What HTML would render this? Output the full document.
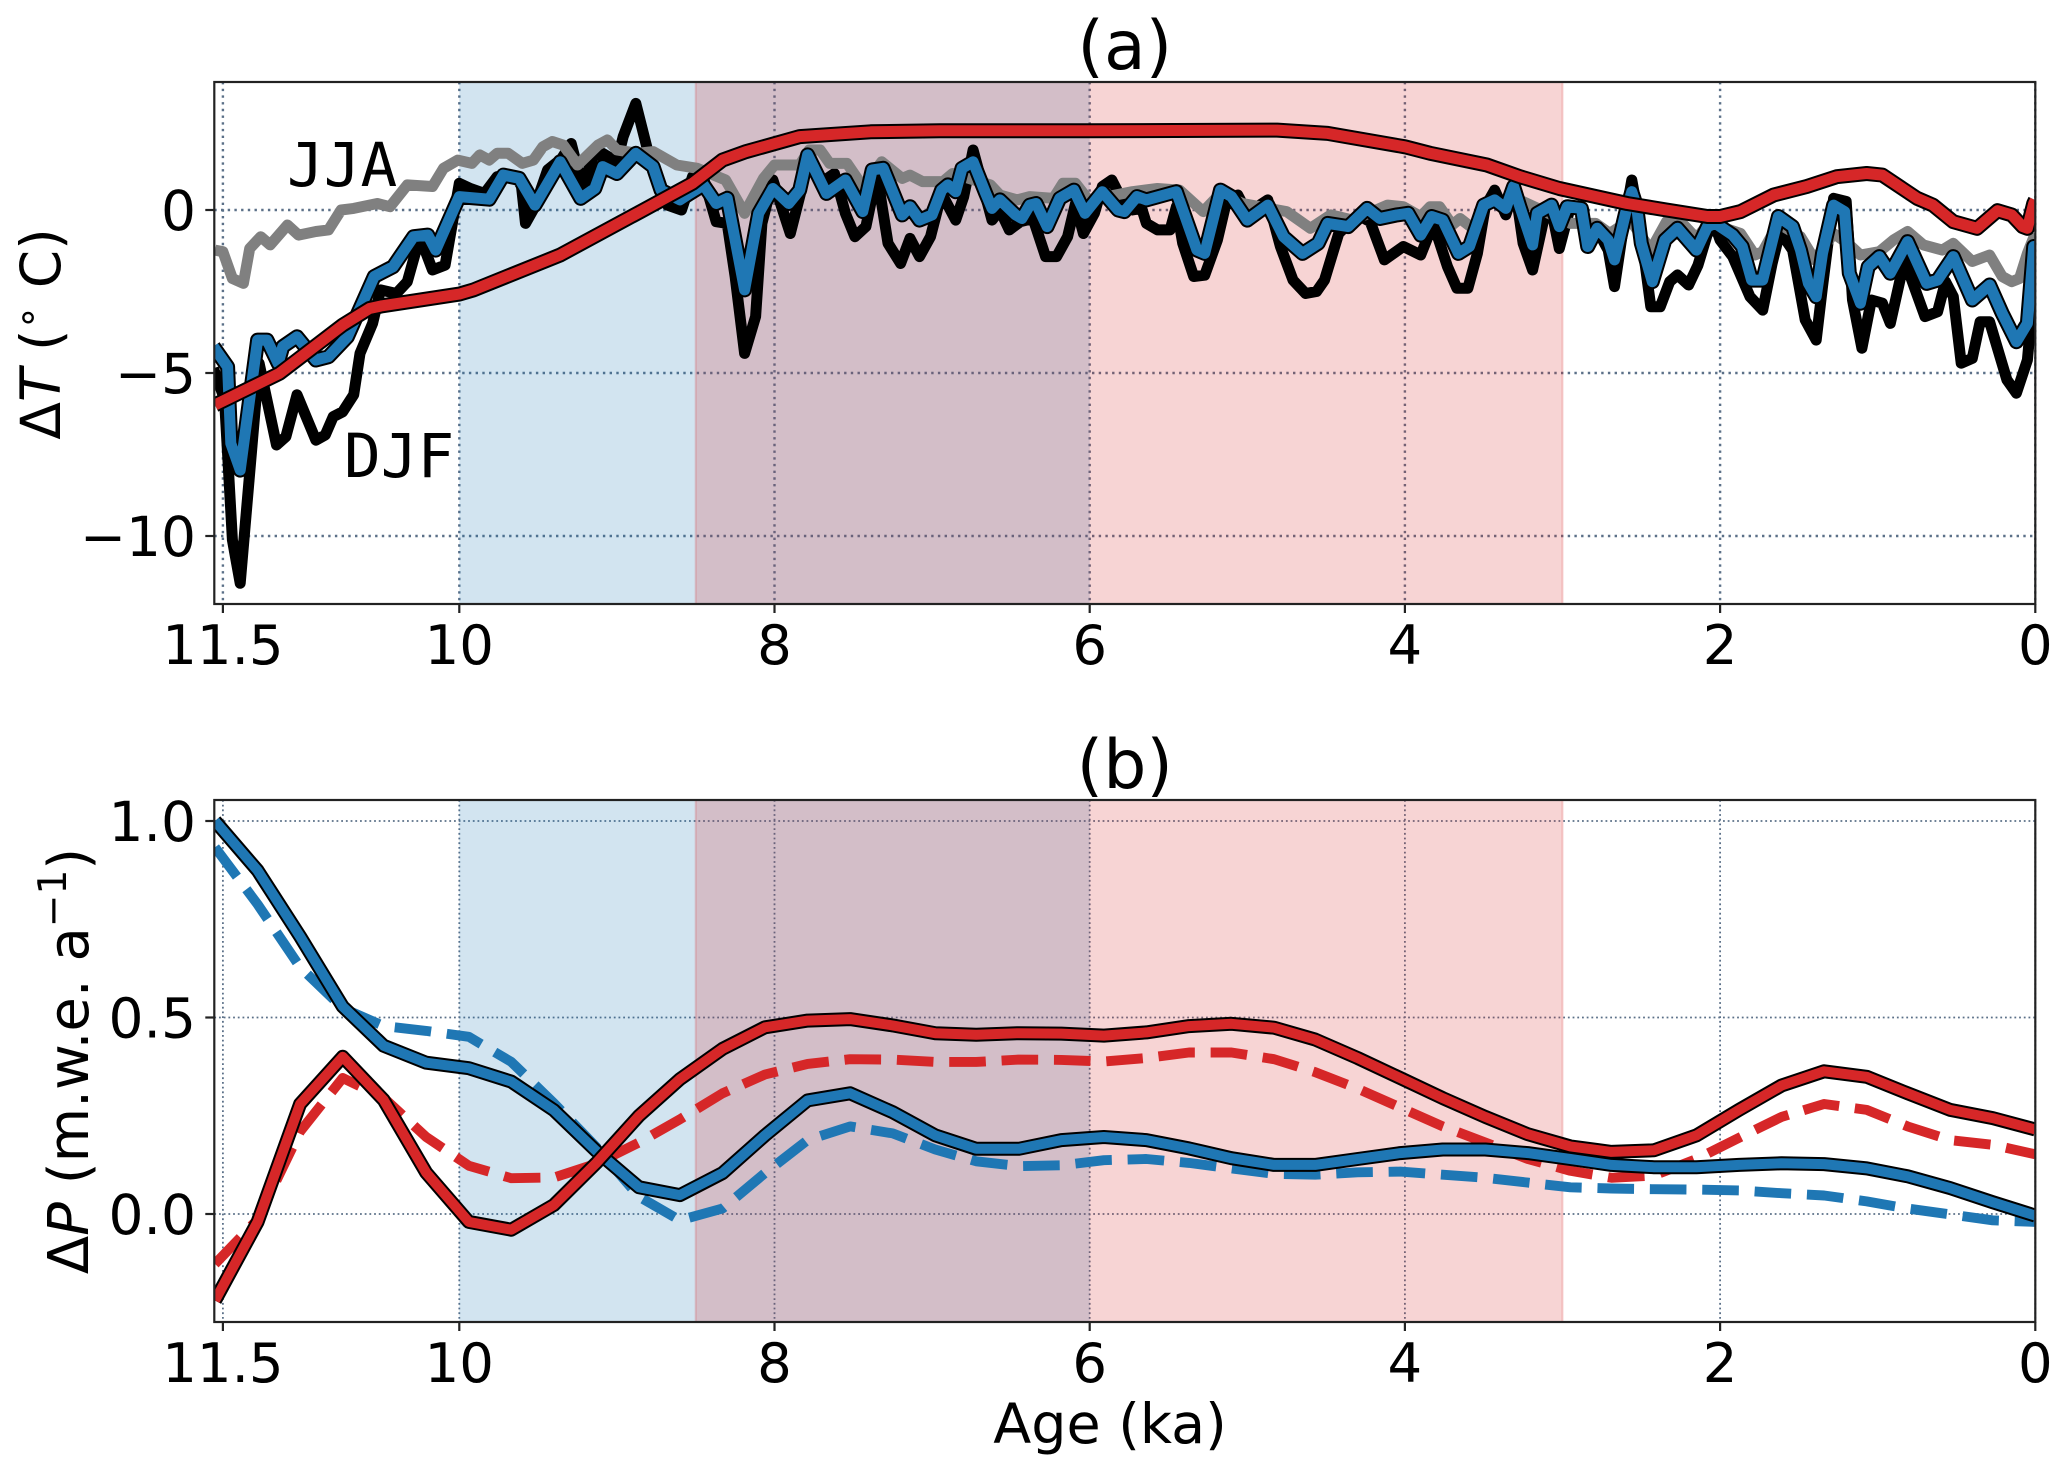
<!DOCTYPE html>
<html lang="en">
<head>
<meta charset="utf-8">
<title>Holocene temperature and precipitation anomalies</title>
<style>
html,body{margin:0;padding:0;background:#fff;width:2067px;height:1474px;overflow:hidden}
svg{display:block}
text{font-family:"DejaVu Sans","Liberation Sans",sans-serif;fill:#000}
.mono{font-family:"DejaVu Sans Mono","Liberation Mono",monospace}
</style>
</head>
<body>
<svg id="figure" xmlns="http://www.w3.org/2000/svg" width="2067" height="1474" viewBox="0 0 2067 1474">
  <defs>
    <clipPath id="clipA"><rect x="214.3" y="82" width="1821" height="522"/></clipPath>
    <clipPath id="clipB"><rect x="214.3" y="800" width="1821" height="522"/></clipPath>
  </defs>
  <rect x="0" y="0" width="2067" height="1474" fill="#fff"/>
  <g id="panelA"></g>
  <g id="panelB"></g>

  <text x="1124.8" y="69" font-size="68" text-anchor="middle">(a)</text>
  <text x="1124.8" y="788" font-size="68" text-anchor="middle">(b)</text>
  <text x="1110" y="1443" font-size="55.5" text-anchor="middle">Age (ka)</text>

  <text transform="translate(60,334) rotate(-90)" font-size="55" text-anchor="middle">Δ<tspan font-style="italic">T</tspan> (<tspan font-size="38" dy="-20">∘</tspan><tspan dy="20"> C)</tspan></text>
  <text transform="translate(88,1061) rotate(-90)" font-size="56" text-anchor="middle">Δ<tspan font-style="italic">P</tspan> (m.w.e. a<tspan font-size="39" dy="-22">−1</tspan><tspan dy="22">)</tspan></text>

  <text class="mono" x="287" y="186" font-size="61">JJA</text>
  <text class="mono" x="344" y="477" font-size="61">DJF</text>
</svg>

<script>
// ---- Axis tick values and labels ----
const xTicks = [11.5, 10, 8, 6, 4, 2, 0];
const xTickLabels = ['11.5', '10', '8', '6', '4', '2', '0'];
const tempTicks = [0, -5, -10];
const tempTickLabels = ['0', '\u22125', '\u221210'];
const precipTicks = [1.0, 0.5, 0.0];
const precipTickLabels = ['1.0', '0.5', '0.0'];

// ---- Shaded periods (ka) ----
const blueSpan = [10, 6];
const redSpan = [8.5, 3];

// ---- Panel (a): DJF temperature anomaly ----
const djfAges = [11.56,11.49,11.44,11.39,11.27,11.16,11.10,11.03,10.91,10.85,10.80,10.74,10.67,10.63,10.55,10.50,10.40,10.33,10.25,10.17,10.09,10.00,9.93,9.84,9.76,9.69,9.61,9.58,9.52,9.44,9.35,9.29,9.22,9.15,9.09,9.00,8.96,8.88,8.80,8.73,8.68,8.59,8.52,8.45,8.37,8.30,8.25,8.19,8.12,8.08,8.01,7.90,7.83,7.78,7.71,7.62,7.55,7.49,7.42,7.35,7.28,7.20,7.14,7.08,7.01,6.94,6.85,6.80,6.74,6.62,6.57,6.51,6.44,6.36,6.28,6.21,6.14,6.09,6.04,5.97,5.92,5.86,5.79,5.73,5.67,5.64,5.57,5.49,5.45,5.41,5.34,5.27,5.19,5.14,5.06,5.00,4.87,4.79,4.71,4.63,4.56,4.51,4.42,4.30,4.22,4.13,4.01,3.90,3.82,3.73,3.67,3.60,3.54,3.49,3.43,3.36,3.30,3.25,3.19,3.12,3.07,3.02,2.95,2.87,2.84,2.78,2.71,2.67,2.62,2.56,2.51,2.44,2.38,2.32,2.27,2.20,2.14,2.08,2.03,2.00,1.92,1.81,1.73,1.67,1.62,1.54,1.46,1.39,1.35,1.28,1.20,1.16,1.10,1.04,0.97,0.92,0.83,0.70,0.62,0.57,0.52,0.47,0.40,0.35,0.29,0.18,0.12,0.05,0.01,0];
const djfValues = [-4.86,-5.8,-10.12,-11.45,-4.7,-7.21,-6.95,-5.67,-7.06,-6.9,-6.34,-6.19,-5.67,-4.4,-3.48,-2.45,-2.56,-2.2,-0.82,-1.84,-1.69,0.82,0.66,0.51,1.02,1.07,0.92,-0.41,0.10,1.23,1.58,2.04,0.72,1.64,1.74,1.48,2.25,3.27,1.74,0.61,0.15,0,1.02,0.97,-0.36,-0.41,-2.04,-4.4,-3.27,-0.41,0.92,-0.72,0.61,1.69,0.82,1.12,-0.10,-0.82,-0.51,1.12,-1.02,-1.64,-0.87,-1.43,-0.82,0.51,-0.31,0.4,1.84,-0.31,0,-0.61,-0.36,-0.26,-1.43,-1.43,-0.82,0.2,-0.72,-0.1,0.72,0.92,0.26,0,0.05,-0.41,-0.61,-0.61,0.1,-1.02,-2.04,-2.0,-0.92,0.1,0.46,-0.1,0.31,-1.12,-2.15,-2.56,-2.5,-2.15,-0.72,-0.15,-0.36,-1.53,-1.12,-1.38,-0.41,-1.74,-2.4,-2.4,-1.33,0.1,0.61,-0.15,0.66,-1.02,-1.84,-0.31,0,-1.18,0.1,0,-1.12,-0.61,-1.23,-2.35,-0.72,0.92,-0.41,-2.97,-2.97,-2.2,-1.99,-2.3,-1.69,-0.72,-0.51,-0.92,-1.43,-2.66,-3.07,-1.64,-0.66,-1.23,-3.37,-3.99,-2.35,0.36,0.26,-2.76,-4.24,-2.76,-2.86,-3.48,-1.53,-3.27,-3.12,-2.2,-2.66,-4.7,-4.55,-3.43,-3.43,-5.21,-5.62,-4.6,-2.45,-1.0];

// ---- Panel (a): JJA temperature anomaly ----
const jjaAges = [11.55,11.50,11.44,11.37,11.33,11.26,11.20,11.09,11.02,10.91,10.83,10.75,10.67,10.52,10.44,10.33,10.17,10.10,10.01,9.92,9.87,9.81,9.76,9.69,9.60,9.53,9.47,9.41,9.34,9.25,9.12,9.06,9.00,8.87,8.77,8.62,8.49,8.31,8.19,8.07,8.00,7.84,7.78,7.71,7.65,7.54,7.44,7.32,7.19,7.14,7.06,6.93,6.87,6.63,6.57,6.46,6.38,6.23,6.17,6.09,6.00,5.90,5.73,5.57,5.43,5.28,5.17,5.03,4.75,4.60,4.47,4.33,4.11,4.01,3.90,3.84,3.78,3.70,3.65,3.57,3.48,3.27,2.95,2.79,2.70,2.57,2.44,2.34,2.23,2.15,2.08,2.00,1.87,1.78,1.73,1.63,1.49,1.40,1.28,1.19,1.11,0.99,0.90,0.81,0.71,0.59,0.52,0.40,0.29,0.21,0.15,0.10,0.05,0];
const jjaValues = [-1.23,-1.28,-2.1,-2.25,-1.18,-0.82,-1.07,-0.46,-0.77,-0.66,-0.61,0,0.05,0.2,0.1,0.77,0.72,1.28,1.53,1.43,1.69,1.53,1.74,1.74,1.43,1.53,1.94,2.1,1.99,1.38,1.99,2.15,1.84,1.74,1.79,1.38,1.28,0.92,-0.1,0.97,1.38,1.38,1.84,1.84,1.43,1.43,0.72,1.48,0.97,1.07,0.87,0.87,1.12,0.77,0.46,0.31,0.41,0.36,0.82,0.82,0.26,0.4,0.56,0.66,0.61,-0.05,0.51,0.2,-0.05,-0.56,-0.15,-0.31,0.15,0.1,-0.2,0.1,0.1,-0.46,-0.26,-0.56,0.2,0.3,-0.41,-0.41,-0.72,-0.3,-1.23,-0.36,-0.46,-0.87,-0.46,-0.51,-0.72,-1.38,-1.28,-0.41,-0.82,-1.53,-0.72,-1.02,-1.38,-1.28,-0.92,-0.66,-1.07,-1.23,-1.02,-1.58,-1.38,-2.04,-2.2,-2.1,-1.33,-0.72];

// ---- Panel (a): annual temperature anomaly (blue) ----
const annualAges = [11.56,11.47,11.45,11.39,11.28,11.22,11.15,11.12,11.03,10.91,10.83,10.71,10.54,10.42,10.29,10.20,10.15,10.00,9.81,9.72,9.62,9.52,9.36,9.23,9.14,9.09,9.00,8.88,8.77,8.72,8.60,8.54,8.45,8.37,8.30,8.19,8.10,8.01,7.91,7.84,7.79,7.67,7.55,7.44,7.38,7.31,7.19,7.14,7.08,7.00,6.94,6.90,6.85,6.81,6.74,6.66,6.62,6.57,6.47,6.43,6.38,6.34,6.27,6.19,6.10,6.03,5.92,5.82,5.78,5.70,5.64,5.45,5.32,5.27,5.17,5.10,5.00,4.87,4.77,4.65,4.55,4.49,4.36,4.24,4.16,4.05,3.98,3.90,3.83,3.76,3.66,3.59,3.50,3.43,3.36,3.31,3.27,3.19,3.16,3.07,3.02,2.97,2.88,2.84,2.78,2.71,2.67,2.60,2.56,2.53,2.50,2.43,2.35,2.27,2.15,2.08,2.03,1.92,1.86,1.80,1.73,1.63,1.54,1.49,1.44,1.39,1.35,1.28,1.21,1.18,1.11,1.06,0.99,0.92,0.81,0.69,0.62,0.52,0.40,0.29,0.21,0.12,0.05,0.01,0];
const annualValues = [-4.19,-4.81,-7.16,-7.98,-3.99,-3.99,-4.7,-4.19,-3.89,-4.6,-4.5,-3.89,-2.04,-1.74,-0.82,-0.77,-1.23,0.41,0.33,1.07,0.97,0.15,1.48,0.36,0.66,1.33,1.12,1.74,1.33,0.61,0.31,0.5,0.77,0.2,0.36,-2.45,-0.1,0.66,0.2,0.61,1.69,0.51,0.92,-0.05,1.23,1.28,-0.15,0.1,-0.31,-0.15,0.61,0.77,0.56,1.28,1.48,0.51,0.05,0.31,-0.15,-0.26,0.15,0.2,-0.51,0.36,0.61,-0.1,0.56,0,-0.05,0.41,0.31,0.56,-1.23,-1.33,0.61,0.41,-0.31,0.15,-0.82,-1.33,-1.02,-0.41,-0.51,0.05,-0.26,-0.15,-0.1,-0.77,-0.2,-0.31,-1.33,-1.12,0.15,0.31,0.05,0.72,0.1,-1.07,-0.1,0.15,-0.51,0.1,0.05,-1.12,-0.56,-0.92,-1.53,-0.1,0.56,0.1,-1.02,-2.2,-0.92,-0.56,-1.23,-0.51,-0.41,-0.77,-1.12,-2.15,-2.15,-0.2,-0.51,-1.23,-2.25,-2.66,-1.33,0.15,-0.05,-1.94,-2.86,-1.74,-1.43,-1.94,-0.97,-2.25,-2.15,-1.43,-2.76,-2.3,-3.17,-4.04,-3.48,-1.12,-1.12];

// ---- Panel (a): modelled temperature forcing (red) ----
const forcingAges = [11.55,11.14,10.74,10.57,10.49,10.00,9.91,9.36,8.85,8.52,8.33,8.18,7.84,7.39,6.95,6.00,4.81,4.49,4.00,3.84,3.48,3.27,3.02,2.59,2.34,2.08,2.00,1.87,1.66,1.45,1.26,1.07,0.97,0.75,0.65,0.52,0.37,0.24,0.15,0.08,0.05,0.01,0];
const forcingValues = [-5.98,-5.01,-3.53,-3.02,-2.94,-2.58,-2.45,-1.38,-0.05,0.82,1.53,1.79,2.25,2.4,2.43,2.43,2.45,2.35,1.94,1.74,1.38,1.02,0.66,0.2,0,-0.2,-0.2,-0.05,0.46,0.72,1.02,1.12,1.07,0.36,0.15,-0.36,-0.56,-0.02,-0.15,-0.51,-0.56,0.2,0.3];

// ---- Panel (b): precipitation anomalies ----
const precipAges = [11.55,11.28,11.01,10.74,10.48,10.21,9.94,9.67,9.40,9.13,8.86,8.60,8.33,8.06,7.79,7.52,7.25,6.98,6.72,6.45,6.18,5.91,5.64,5.37,5.10,4.83,4.57,4.30,4.03,3.76,3.49,3.22,2.95,2.69,2.42,2.15,1.88,1.61,1.34,1.07,0.81,0.54,0.27,0];
const redSolidValues = [-0.22,-0.02,0.28,0.40,0.29,0.105,-0.02,-0.04,0.023,0.13,0.25,0.343,0.42,0.475,0.492,0.496,0.48,0.46,0.456,0.46,0.459,0.454,0.462,0.478,0.484,0.474,0.444,0.397,0.346,0.295,0.247,0.203,0.172,0.158,0.162,0.2,0.265,0.327,0.363,0.349,0.307,0.265,0.244,0.215];
const blueSolidValues = [1.0,0.874,0.706,0.528,0.428,0.385,0.371,0.337,0.264,0.16,0.068,0.048,0.104,0.2,0.289,0.307,0.259,0.2,0.166,0.166,0.188,0.196,0.188,0.167,0.142,0.125,0.125,0.14,0.155,0.164,0.164,0.155,0.14,0.125,0.119,0.119,0.125,0.129,0.127,0.116,0.096,0.066,0.03,-0.004];
const blueDashedValues = [0.933,0.788,0.628,0.524,0.478,0.466,0.451,0.387,0.282,0.17,0.044,-0.016,0.014,0.104,0.188,0.223,0.205,0.164,0.134,0.122,0.124,0.137,0.14,0.13,0.116,0.102,0.1,0.106,0.108,0.1,0.092,0.08,0.068,0.065,0.063,0.062,0.06,0.053,0.047,0.032,0.014,-0.001,-0.016,-0.02];
const redDashedValues = [-0.127,-0.014,0.21,0.346,0.296,0.196,0.123,0.091,0.093,0.128,0.182,0.241,0.307,0.355,0.382,0.394,0.393,0.387,0.387,0.393,0.392,0.388,0.397,0.411,0.411,0.394,0.361,0.319,0.271,0.223,0.182,0.14,0.11,0.092,0.098,0.14,0.194,0.247,0.28,0.265,0.223,0.188,0.176,0.152];

// ---- Axis functions ----
const NS = 'http://www.w3.org/2000/svg';
const axLeft = 214.3, axRight = 2035.3;
const topA = 82, bottomA = 604, topB = 800, bottomB = 1322;
function xScale(age) { return 2035.3 - 157.6 * age; }
function yTemp(v) { return 210 - 32.6 * v; }
function yPrecip(v) { return 1214 - 393 * v; }

function mk(parent, tag, attrs) {
  const el = document.createElementNS(NS, tag);
  for (const k in attrs) el.setAttribute(k, attrs[k]);
  parent.appendChild(el);
  return el;
}
function pointsOf(ages, values, yFn) {
  return ages.map(function (a, i) { return xScale(a).toFixed(1) + ',' + yFn(values[i]).toFixed(1); }).join(' ');
}
function plainLine(parent, ages, values, yFn, color, width, dash) {
  const attrs = { points: pointsOf(ages, values, yFn), fill: 'none', stroke: color, 'stroke-width': width, 'stroke-linejoin': 'round' };
  if (dash) attrs['stroke-dasharray'] = dash;
  return mk(parent, 'polyline', attrs);
}
function outlinedLine(parent, ages, values, yFn, color, outerWidth, coreWidth) {
  const g = mk(parent, 'g', {});
  const outline = plainLine(g, ages, values, yFn, '#000', outerWidth);
  
  
  const core = plainLine(g, ages, values, yFn, color, coreWidth);
  
  
  return g;
}
function drawSpans(parent, top, bottom) {
  const blue = mk(parent, 'rect', { x: xScale(blueSpan[0]), y: top, width: xScale(blueSpan[1]) - xScale(blueSpan[0]), height: bottom - top, fill: '#1f77b4', 'fill-opacity': 0.2 });
  
  
  const red = mk(parent, 'rect', { x: xScale(redSpan[0]), y: top, width: xScale(redSpan[1]) - xScale(redSpan[0]), height: bottom - top, fill: '#d62728', 'fill-opacity': 0.2, stroke: '#d62728', 'stroke-opacity': 0.2, 'stroke-width': 2 });
  
  
}
function drawGrid(parent, top, bottom, yTicks, yFn, width, dash) {
  xTicks.forEach(function (t) {
    const l = mk(parent, 'line', { x1: xScale(t), x2: xScale(t), y1: top, y2: bottom, stroke: '#5b7088', 'stroke-width': width, 'stroke-dasharray': dash });
    
    
  });
  yTicks.forEach(function (t) {
    const l = mk(parent, 'line', { x1: axLeft, x2: axRight, y1: yFn(t), y2: yFn(t), stroke: '#5b7088', 'stroke-width': width, 'stroke-dasharray': dash });
    
    
  });
}
function drawFrame(parent, top, bottom, yTicks, yLabels, yFn) {
  const frame = mk(parent, 'rect', { x: axLeft, y: top, width: axRight - axLeft, height: bottom - top, fill: 'none', stroke: '#222', 'stroke-width': 2.2 });
  
  
  xTicks.forEach(function (t, i) {
    const tick = mk(parent, 'line', { x1: xScale(t), x2: xScale(t), y1: bottom, y2: bottom + 9, stroke: '#222', 'stroke-width': 2.2 });
    
    
    const label = mk(parent, 'text', { x: xScale(t), y: bottom + 60, 'font-size': 54.5, 'text-anchor': 'middle' });
    label.textContent = xTickLabels[i];
    
    
  });
  yTicks.forEach(function (t, i) {
    const tick = mk(parent, 'line', { x1: axLeft - 9, x2: axLeft, y1: yFn(t), y2: yFn(t), stroke: '#222', 'stroke-width': 2.2 });
    
    
    const label = mk(parent, 'text', { x: 196, y: yFn(t) + 20, 'font-size': 55, 'text-anchor': 'end' });
    label.textContent = yLabels[i];
    
    
  });
}

// ---- Panel (a) ----
const panelA = document.getElementById('panelA');
drawGrid(panelA, topA, bottomA, tempTicks, yTemp, 2.4, '2.4 4.3');
drawSpans(panelA, topA, bottomA);
const clipGroupA = mk(panelA, 'g', { 'clip-path': 'url(#clipA)' });


const djfLine = plainLine(clipGroupA, djfAges, djfValues, yTemp, '#000', 11);


const jjaLine = plainLine(clipGroupA, jjaAges, jjaValues, yTemp, '#808080', 11);


const annualLine = outlinedLine(clipGroupA, annualAges, annualValues, yTemp, '#1f77b4', 15, 11);


const forcingLine = outlinedLine(clipGroupA, forcingAges, forcingValues, yTemp, '#d62728', 15, 11);


drawFrame(panelA, topA, bottomA, tempTicks, tempTickLabels, yTemp);

// ---- Panel (b) ----
const panelB = document.getElementById('panelB');
drawGrid(panelB, topB, bottomB, precipTicks, yPrecip, 1.8, '1.8 2.9');
drawSpans(panelB, topB, bottomB);
const clipGroupB = mk(panelB, 'g', { 'clip-path': 'url(#clipB)' });


const redDashed = plainLine(clipGroupB, precipAges, redDashedValues, yPrecip, '#d62728', 9.9, '36.6 15.8');


const blueDashed = plainLine(clipGroupB, precipAges, blueDashedValues, yPrecip, '#1f77b4', 9.9, '36.6 15.8');


const blueSolid = outlinedLine(clipGroupB, precipAges, blueSolidValues, yPrecip, '#1f77b4', 14, 10);


const redSolid = outlinedLine(clipGroupB, precipAges, redSolidValues, yPrecip, '#d62728', 14, 10);


drawFrame(panelB, topB, bottomB, precipTicks, precipTickLabels, yPrecip);
</script>
</body>
</html>
